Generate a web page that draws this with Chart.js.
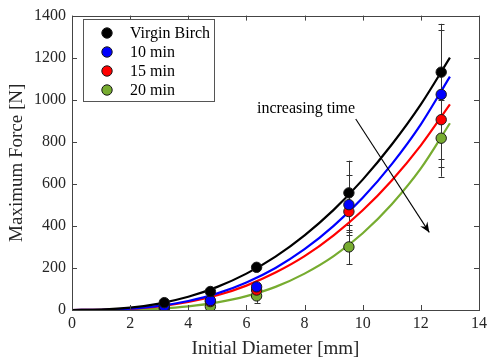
<!DOCTYPE html>
<html><head><meta charset="utf-8">
<script src="https://cdn.jsdelivr.net/npm/chart.js@4/dist/chart.umd.min.js"></script>
<style>html,body{margin:0;padding:0;background:#fff}#wrap{width:491px;height:364px}</style>
</head><body><div id="wrap"><canvas id="c" width="491" height="364"></canvas></div>
<script>
// Measured specimens: initial diameter [mm]
const diameters = [3.175, 4.76, 6.35, 9.525, 12.7];
const seriesNames = ['Virgin Birch', '10 min', '15 min', '20 min'];
const seriesColors = ['#000000', '#0000ff', '#ff0000', '#77ac30'];

// Mean maximum force [N]
const virginForce = [35, 88, 203, 557, 1131];
const min10Force = [18, 45, 110, 501, 1025];
const min15Force = [15, 40, 95, 468, 905];
const min20Force = [5, 16, 67, 300, 817];

// Standard deviation of maximum force [N]
const virginErr = [6, 10, 15, 153, 230];
const min10Err = [5, 8, 20, 142, 305];
const min15Err = [5, 8, 25, 95, 224];
const min20Err = [4, 6, 33, 82, 183];

// Trend curves sampled along diameter
const fitX = [0, 1, 2, 3, 4, 5, 6, 7, 8, 9, 10, 11, 12, 13];
const virginFit = [0, 2.0, 11.1, 30.6, 62.7, 110, 173, 254, 355, 476, 620, 787, 978, 1200];
const min10Fit = [0, 0.95, 6.4, 19.5, 43, 79, 131, 200, 289, 400, 534, 694, 883, 1110];
const min15Fit = [0, 0.84, 5.7, 17.3, 38, 70, 116, 178, 256, 355, 474, 616, 783, 978];
const min20Fit = [0, 0.16, 1.7, 6.5, 17, 36, 66, 110, 173, 256, 365, 503, 673, 888];

const xTicks = [0, 2, 4, 6, 8, 10, 12, 14];
const yTicks = [0, 200, 400, 600, 800, 1000, 1200, 1400];

const annotationText = 'increasing time';
const annotationAt = {x: 8.05, y: 955};
const arrowFrom = {x: 9.76, y: 908};
const arrowTo = {x: 12.29, y: 369};

const forces = [virginForce, min10Force, min15Force, min20Force];
const errors = [virginErr, min10Err, min15Err, min20Err];
const fits = [virginFit, min10Fit, min15Fit, min20Fit];

const FONT = "'Liberation Serif', 'Times New Roman', serif";
const AXIS = '#262626';
const MARK_R = 5.2;

const datasets = [];
forces.forEach((vals, i) => {
  datasets.push({
    label: seriesNames[i],
    data: diameters.map((d, k) => ({x: d, y: vals[k]})),
    showLine: false,
    pointRadius: MARK_R,
    pointBackgroundColor: seriesColors[i],
    pointBorderColor: '#1a1a1a',
    pointBorderWidth: 1,
    order: 0,
    errs: errors[i]
  });
});
fits.forEach((vals, i) => {
  datasets.push({
    label: seriesNames[i] + ' fit',
    data: fitX.map((x, k) => ({x: x, y: vals[k]})),
    borderColor: seriesColors[i],
    borderWidth: 2.2,
    pointRadius: 0,
    cubicInterpolationMode: 'monotone',
    fill: false,
    order: 1
  });
});

const errorBars = {
  id: 'errorBars',
  beforeDatasetsDraw(chart) {
    const {ctx, scales: {x, y}} = chart;
    ctx.save();
    ctx.strokeStyle = '#333';
    ctx.lineWidth = 1;
    chart.data.datasets.forEach(ds => {
      if (!ds.errs) return;
      ds.data.forEach((p, k) => {
        const px = Math.round(x.getPixelForValue(p.x)) + 0.5;
        const top = y.getPixelForValue(p.y + ds.errs[k]);
        const bot = y.getPixelForValue(Math.max(0, p.y - ds.errs[k]));
        ctx.beginPath();
        ctx.moveTo(px, top); ctx.lineTo(px, bot);
        ctx.moveTo(px - 3, Math.round(top) + 0.5); ctx.lineTo(px + 3, Math.round(top) + 0.5);
        ctx.moveTo(px - 3, Math.round(bot) + 0.5); ctx.lineTo(px + 3, Math.round(bot) + 0.5);
        ctx.stroke();
      });
    });
    ctx.restore();
  }
};

const frame = {
  id: 'frame',
  afterDatasetsDraw(chart) {
    const {ctx, chartArea: a, scales: {x, y}} = chart;
    ctx.save();
    ctx.strokeStyle = '#444';
    ctx.lineWidth = 1;
    ctx.strokeRect(Math.round(a.left) + 0.5, Math.round(a.top) + 0.5,
      Math.round(a.right - a.left), Math.round(a.bottom - a.top));
    ctx.beginPath();
    const L = 5;
    xTicks.forEach(v => {
      const px = Math.round(x.getPixelForValue(v)) + 0.5;
      ctx.moveTo(px, a.bottom); ctx.lineTo(px, a.bottom - L);
      ctx.moveTo(px, a.top); ctx.lineTo(px, a.top + L);
    });
    yTicks.forEach(v => {
      const py = Math.round(y.getPixelForValue(v)) + 0.5;
      ctx.moveTo(a.left, py); ctx.lineTo(a.left + L, py);
      ctx.moveTo(a.right, py); ctx.lineTo(a.right - L, py);
    });
    ctx.stroke();

    // annotation with arrow
    ctx.fillStyle = '#000';
    ctx.font = '16px ' + FONT;
    ctx.textAlign = 'center';
    ctx.textBaseline = 'middle';
    ctx.fillText(annotationText, x.getPixelForValue(annotationAt.x), y.getPixelForValue(annotationAt.y));
    const x1 = x.getPixelForValue(arrowFrom.x), y1 = y.getPixelForValue(arrowFrom.y);
    const x2 = x.getPixelForValue(arrowTo.x), y2 = y.getPixelForValue(arrowTo.y);
    ctx.strokeStyle = '#000';
    ctx.lineWidth = 1.1;
    ctx.beginPath(); ctx.moveTo(x1, y1); ctx.lineTo(x2, y2); ctx.stroke();
    const ang = Math.atan2(y2 - y1, x2 - x1);
    const hl = 11, hw = 0.4;
    ctx.beginPath();
    ctx.moveTo(x2, y2);
    ctx.lineTo(x2 - hl * Math.cos(ang - hw), y2 - hl * Math.sin(ang - hw));
    ctx.lineTo(x2 - 0.6 * hl * Math.cos(ang), y2 - 0.6 * hl * Math.sin(ang));
    ctx.lineTo(x2 - hl * Math.cos(ang + hw), y2 - hl * Math.sin(ang + hw));
    ctx.closePath();
    ctx.fill();
    ctx.restore();
  }
};

const legendBox = {
  id: 'legendBox',
  afterDraw(chart) {
    const {ctx} = chart;
    ctx.save();
    ctx.fillStyle = '#fff';
    ctx.strokeStyle = '#555';
    ctx.lineWidth = 1;
    ctx.fillRect(83, 19, 131, 82);
    ctx.strokeRect(83.5, 19.5, 131, 82);
    ctx.font = '16px ' + FONT;
    ctx.textAlign = 'left';
    ctx.textBaseline = 'middle';
    seriesNames.forEach((name, i) => {
      const yy = 33 + i * 19;
      ctx.beginPath();
      ctx.arc(107, yy, MARK_R, 0, Math.PI * 2);
      ctx.fillStyle = seriesColors[i];
      ctx.fill();
      ctx.strokeStyle = '#1a1a1a';
      ctx.stroke();
      ctx.fillStyle = '#000';
      ctx.fillText(name, 130, yy + 1);
    });
    ctx.restore();
  }
};

new Chart(document.getElementById('c'), {
  type: 'line',
  data: {datasets},
  options: {
    responsive: false,
    animation: false,
    layout: {padding: {top: 14, right: 9, left: 0, bottom: 0}},
    plugins: {legend: {display: false}, tooltip: {enabled: false}},
    scales: {
      x: {
        type: 'linear', min: 0, max: 14,
        afterBuildTicks: s => { s.ticks = xTicks.map(v => ({value: v})); },
        afterFit: s => { s.height = 54; },
        grid: {display: false, drawTicks: false},
        border: {display: false},
        ticks: {font: {family: FONT, size: 16}, color: AXIS, padding: 4, maxRotation: 0, callback: v => String(v)},
        title: {display: true, text: 'Initial Diameter [mm]', font: {family: FONT, size: 19}, color: AXIS, padding: {top: 0, bottom: 4}}
      },
      y: {
        type: 'linear', min: 0, max: 1400,
        afterBuildTicks: s => { s.ticks = yTicks.map(v => ({value: v})); },
        afterFit: s => { s.width = 72; },
        grid: {display: false, drawTicks: false},
        border: {display: false},
        ticks: {font: {family: FONT, size: 16}, color: AXIS, padding: 6, callback: v => String(v)},
        title: {display: true, text: 'Maximum Force [N]', font: {family: FONT, size: 19}, color: AXIS, padding: {top: 6, bottom: 0}}
      }
    }
  },
  plugins: [errorBars, frame, legendBox]
});
</script></body></html>
